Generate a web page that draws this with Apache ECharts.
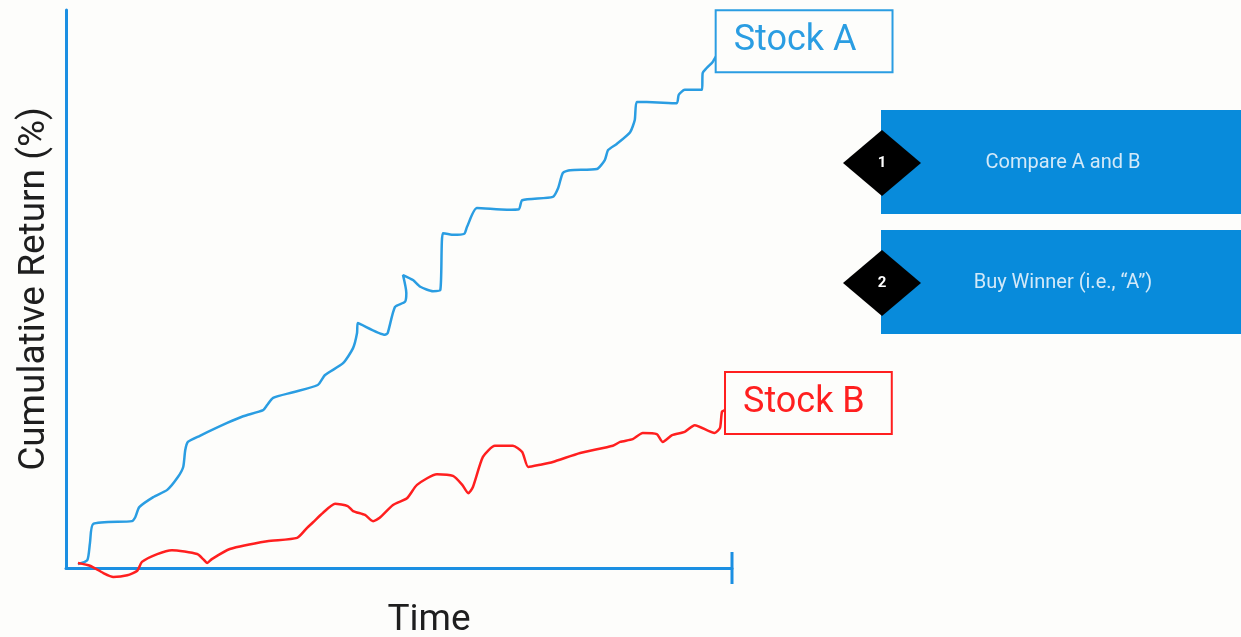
<!DOCTYPE html>
<html>
<head>
<meta charset="utf-8">
<script src="https://cdn.jsdelivr.net/npm/echarts@6/dist/echarts.min.js"></script>
<style>
html,body{margin:0;padding:0;background:#fdfdfb;}
#chart{width:1241px;height:637px;}
</style>
</head>
<body>
<div id="chart"></div>
<script>
// time (0-100) and cumulative return (%) pairs
const stockATime = [1.8,3.2,3.6,4.1,9.9,10.4,11.0,13.1,15.2,16.8,17.6,17.9,18.3,20.1,24.2,26.6,29.6,30.2,31.1,34.1,37.8,38.9,41.6,43.1,43.7,43.8,47.9,48.3,49.4,50.9,51.1,50.6,52.1,53.2,55.1,56.2,56.6,58.1,59.8,60.2,61.7,66.2,68.0,68.5,73.1,73.9,74.6,75.7,79.7,80.9,81.4,82.7,84.7,85.4,85.7,87.2,91.7,92.0,92.9,95.5,95.6,96.2,97.1,97.7];
const stockAReturn = [0.7,1.4,4.5,7.9,8.4,9.1,10.9,12.7,14.0,16.3,18.1,21.1,22.6,23.7,26.0,27.2,28.3,29.2,30.5,31.5,32.8,34.6,36.7,39.4,42.1,43.9,41.8,42.1,46.8,47.7,49.3,52.5,51.6,50.4,49.6,49.8,60.0,59.7,59.9,61.1,64.5,64.2,64.3,65.9,66.5,68.1,70.8,71.3,71.5,73.1,74.9,76.0,78.1,80.3,83.5,83.5,83.3,84.8,85.7,85.7,88.7,89.6,90.7,91.9];
const stockBTime = [1.8,3.6,5.6,7.1,9.2,10.7,11.4,13.7,15.9,19.7,20.6,21.2,21.9,24.6,30.2,34.7,36.2,37.1,38.6,40.4,42.3,43.1,44.9,46.1,47.1,49.1,51.2,52.7,55.7,58.1,59.5,60.4,61.1,62.6,64.4,67.1,68.5,69.4,71.2,73.1,77.2,82.1,83.2,85.1,86.6,88.7,89.6,91.0,92.9,94.4,97.4,98.2,98.5,99.1];
const stockBReturn = [0.9,0.4,-0.9,-1.6,-1.3,-0.5,1.1,2.5,3.2,2.5,1.6,0.9,1.6,3.4,4.8,5.4,7.2,8.2,9.9,11.5,11.1,10.2,9.5,8.4,9.0,11.3,12.5,14.9,16.8,16.5,14.9,13.4,14.5,19.9,21.9,21.9,20.8,18.1,18.5,19.0,20.6,21.9,22.6,23.1,24.2,24.0,22.6,23.8,24.4,25.6,24.2,25.1,28.0,28.3];
const seriesNames = ['Stock A','Stock B'];
const steps = ['Compare A and B','Buy Winner (i.e., \u201cA\u201d)'];
const stepNums = ['1','2'];

const zip = (a,b)=>a.map((v,i)=>[v,b[i]]);
const FONT = 'Roboto';
const AXIS_C = '#1b8fe2';
const BLUE = '#2a9de2';
const RED = '#ff1f1f';
const BOX = '#088bdb';

const chart = echarts.init(document.getElementById('chart'));

const graphics = [];
steps.forEach((s,i)=>{
  const y0 = 110 + i*120;
  graphics.push({type:'rect',shape:{x:881,y:y0,width:360,height:104},style:{fill:BOX}});
  const cy = y0 + 53;
  graphics.push({type:'polygon',shape:{points:[[843,cy],[882,cy-33],[921,cy],[882,cy+33]]},style:{fill:'#000'}});
  graphics.push({type:'text',x:882,y:cy,style:{text:stepNums[i],fill:'#fff',font:'bold 15px Roboto',textAlign:'center',textVerticalAlign:'middle'}});
  graphics.push({type:'text',x:1063,y:cy,style:{text:s,fill:'#d3e9f8',font:'20px Roboto',textAlign:'center',textVerticalAlign:'middle'}});
});

chart.setOption({
  backgroundColor:'#fdfdfb',
  animation:false,
  grid:{left:66,right:509,top:10,bottom:69,containLabel:false,outerBoundsMode:'none'},
  xAxis:{
    type:'value',min:0,max:100,
    name:'Time',nameLocation:'middle',nameGap:34,
    nameTextStyle:{fontFamily:FONT,fontSize:37,color:'#1e1e1e',padding:[0,0,0,60]},
    axisLine:{show:true,onZero:false,lineStyle:{color:AXIS_C,width:3},symbol:['none','rect'],symbolSize:[32,3]},
    axisTick:{show:false},axisLabel:{show:false},splitLine:{show:false}
  },
  yAxis:{
    type:'value',min:0,max:100,
    name:'Cumulative Return (%)',nameLocation:'middle',nameGap:13,
    nameTextStyle:{fontFamily:FONT,fontSize:37,color:'#1e1e1e'},
    axisLine:{show:true,lineStyle:{color:AXIS_C,width:3}},
    axisTick:{show:false},axisLabel:{show:false},splitLine:{show:false}
  },
  series:[
    {
      name:seriesNames[0],type:'line',data:zip(stockATime,stockAReturn),
      showSymbol:false,smooth:0.2,clip:false,
      lineStyle:{color:BLUE,width:2.5},
      endLabel:{show:true,formatter:'{a}',color:BLUE,fontFamily:FONT,fontSize:36,lineHeight:40,
        borderColor:BLUE,borderWidth:2,padding:[10,35,10,17],distance:0,offset:[0,-14],backgroundColor:'#fdfdfb'}
    },
    {
      name:seriesNames[1],type:'line',data:zip(stockBTime,stockBReturn),
      showSymbol:false,smooth:0.2,clip:false,
      lineStyle:{color:RED,width:2.5},
      endLabel:{show:true,formatter:'{a}',color:RED,fontFamily:FONT,fontSize:36,lineHeight:40,
        borderColor:RED,borderWidth:2,padding:[10,26,10,17],distance:0,offset:[0,-7],backgroundColor:'#fdfdfb'}
    }
  ],
  graphic:graphics
});
</script>
</body>
</html>
